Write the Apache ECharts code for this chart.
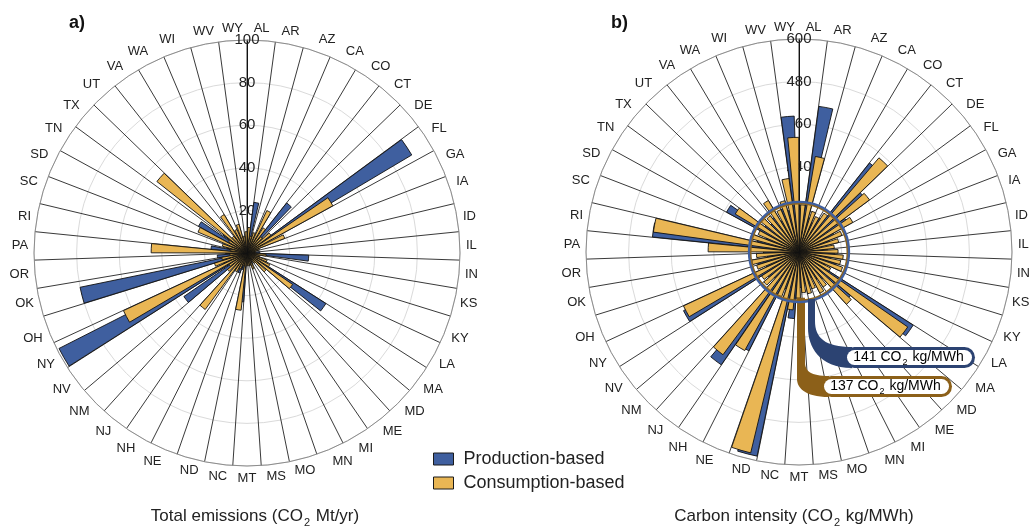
<!DOCTYPE html>
<html>
<head>
<meta charset="utf-8">
<script src="https://cdn.jsdelivr.net/npm/echarts@6/dist/echarts.min.js"></script>
<style>
  html, body { margin: 0; padding: 0; background: #fff; }
  #chart { width: 1031px; height: 529px; }
</style>
</head>
<body>
<div id="chart"></div>
<script>
// States, clockwise from the top
const states = ['AL','AR','AZ','CA','CO','CT','DE','FL','GA','IA','ID','IL','IN','KS','KY','LA',
  'MA','MD','ME','MI','MN','MO','MS','MT','NC','ND','NE','NH','NJ','NM','NV','NY','OH','OK',
  'OR','PA','RI','SC','SD','TN','TX','UT','VA','WA','WI','WV','WY'];

// a) total emissions, CO2 Mt/yr
const emissionsProduction = [6,24,4,6,8,30,10,90,8,5,3,6,29,5,6,6,
  44,8,4,5,6,4,5,4,23,8,10,6,10,8,36,99,12,80,
  14,10,17,10,8,26,14,8,10,6,8,4,6];
const emissionsConsumption = [12,8,10,22,14,10,14,46,19,6,4,4,9,6,10,12,
  26,12,6,4,8,6,6,6,27,6,8,10,33,12,10,64,16,12,
  8,45,8,12,25,10,54,10,21,12,14,8,10];

// b) carbon intensity, CO2 kg/MWh
const intensityProduction = [120,414,100,90,110,320,240,160,110,90,60,80,100,90,110,80,
  382,190,100,90,80,100,90,100,188,587,110,312,386,100,110,365,100,120,
  90,100,415,120,100,233,120,110,120,100,130,120,383];
const intensityConsumption = [133,273,120,110,130,348,247,173,130,115,100,110,125,120,130,100,
  372,199,120,130,110,120,115,130,164,582,135,317,360,130,125,359,125,135,
  120,256,414,140,125,209,140,130,169,130,150,209,323];

// Radial tick labels
const emissionTicks = [20, 40, 60, 80, 100];
const intensityTicks = [120, 240, 360, 480, 600];

// Averages drawn as rings on the intensity panel
const avgProduction = 141;
const avgConsumption = 137;

const seriesNames = ['Production-based', 'Consumption-based'];
const BLUE = '#3f5f9f';
const GOLD = '#e9b654';
const FONT = 'Liberation Sans, Arial, sans-serif';

// Each panel: one polar carrying the visible axes, plus two overlaid polars
// (same centre/scale) whose angle axes are nudged so the two bars of a
// state overlap like a dodge with partial overlap.
const CENTERS = [[247, 253], [799, 252]];
const RADIUS = 213;
const BAR_SHARE = 0.72;                       // bar width as share of a state's sector
const NUDGE = 0.125 * 360 / states.length;    // half the offset between the two bars, degrees

const chart = echarts.init(document.getElementById('chart'), null, { renderer: 'canvas' });

function visibleAngleAxis(idx) {
  return {
    polarIndex: idx,
    type: 'category',
    data: states,
    startAngle: 90,
    clockwise: true,
    boundaryGap: true,
    axisLine: { show: true, lineStyle: { color: '#8c8c8c', width: 1 } },
    axisTick: { show: false },
    axisLabel: { interval: 0, margin: 6, fontSize: 13, color: '#222', fontFamily: FONT },
    splitLine: { show: true, interval: 0, lineStyle: { color: '#222', width: 0.9 } }
  };
}

function hiddenAngleAxis(idx, shift) {
  return {
    polarIndex: idx,
    type: 'category',
    data: states,
    startAngle: 90 + shift,
    clockwise: true,
    boundaryGap: true,
    show: false
  };
}

function visibleRadiusAxis(idx, ticks) {
  return {
    polarIndex: idx,
    type: 'value',
    min: 0,
    max: ticks[ticks.length - 1],
    interval: ticks[1] - ticks[0],
    axisLine: { show: true, lineStyle: { color: '#111', width: 1 } },
    axisTick: { show: false },
    axisLabel: {
      showMinLabel: false, margin: 0, align: 'center', verticalAlign: 'middle',
      fontSize: 15, color: '#222', fontFamily: FONT
    },
    splitLine: { show: true, lineStyle: { color: '#dadada', width: 1 } }
  };
}

function hiddenRadiusAxis(idx, ticks) {
  return {
    polarIndex: idx,
    type: 'value',
    min: 0,
    max: ticks[ticks.length - 1],
    interval: ticks[1] - ticks[0],
    show: false
  };
}

function bars(idx, name, data, color, z) {
  return {
    type: 'bar',
    name: name,
    coordinateSystem: 'polar',
    polarIndex: idx,
    data: data,
    z: z,
    barWidth: (BAR_SHARE * 100) + '%',
    itemStyle: { color: color, borderColor: '#111', borderWidth: 0.9 },
    emphasis: { disabled: true },
    silent: true
  };
}

const subRich = (size, color) => ({
  t: { fontSize: size, color: color, fontFamily: FONT, fontWeight: 'normal',
       lineHeight: size + 6, verticalAlign: 'middle' },
  s: { fontSize: Math.round(size * 0.62), color: color, fontFamily: FONT, fontWeight: 'normal',
       lineHeight: size + 6, verticalAlign: 'bottom', padding: [0, 1, 0, 1] }
});

// Ring at the average plus a flag label hanging below it
function averageRing(value, ringColor, flagColor, textColor, flag) {
  return {
    type: 'custom',
    coordinateSystem: 'polar',
    polarIndex: 3,
    silent: true,
    z: 6,
    data: [[value, 0]],
    renderItem: function (params, api) {
      const cs = params.coordSys;
      const p = api.coord([api.value(0), 0]);
      const cx = cs.cx, cy = cs.cy;
      const R = Math.hypot(p[0] - cx, p[1] - cy);
      const x0 = cx + flag.bandL, x1 = cx + flag.bandR;
      const top = cy + R - 3;
      const pL = cx + flag.pillL, pT = cy + flag.pillT, pH = flag.pillH, pW = flag.pillW;
      const pB = pT + pH;
      const horn = [
        'M', x0, top, 'L', x1, top,
        'L', x1, pT - flag.bendIn,
        'C', x1, pT - flag.bendIn * 0.35, x1 + (pL - x1) * 0.35, pT, pL + 8, pT,
        'L', pL + 8, pB,
        'C', x0 + (pL - x0) * 0.3, pB, x0, pB - flag.bendOut * 0.55, x0, pB - flag.bendOut,
        'Z'
      ].join(' ');
      const label = '{t|' + value + ' CO}{s|2}{t| kg/MWh}';
      return {
        type: 'group',
        children: [
          { type: 'circle', shape: { cx: cx, cy: cy, r: R },
            style: { fill: 'none', stroke: ringColor, lineWidth: 2.2 } },
          { type: 'path', shape: { pathData: horn }, style: { fill: flagColor } },
          { type: 'rect', shape: { x: pL, y: pT, width: pW, height: pH, r: pH / 2 },
            style: { fill: flagColor } },
          { type: 'rect', shape: { x: pL + 3, y: pT + 3, width: pW - 6, height: pH - 6, r: (pH - 6) / 2 },
            style: { fill: '#fff' } },
          { type: 'text',
            style: { text: label, x: pL + pW / 2 - 1, y: pT + pH / 2, align: 'center',
                     verticalAlign: 'middle', rich: subRich(14, textColor) } }
        ]
      };
    }
  };
}

const option = {
  backgroundColor: '#fff',
  animation: false,
  textStyle: { fontFamily: FONT },
  title: [
    { text: 'a)', left: 64, top: 9, textStyle: { fontSize: 18, fontWeight: 'bold', color: '#111', fontFamily: FONT } },
    { text: 'b)', left: 606, top: 9, textStyle: { fontSize: 18, fontWeight: 'bold', color: '#111', fontFamily: FONT } },
    { text: '{t|Total emissions (CO}{s|2}{t| Mt/yr)}', left: 250, top: 500, textAlign: 'center',
      textStyle: { fontWeight: 'normal', rich: subRich(17, '#222') } },
    { text: '{t|Carbon intensity (CO}{s|2}{t| kg/MWh)}', left: 789, top: 500, textAlign: 'center',
      textStyle: { fontWeight: 'normal', rich: subRich(17, '#222') } }
  ],
  legend: {
    data: seriesNames,
    orient: 'vertical',
    left: 433,
    top: 450,
    padding: 0,
    itemWidth: 20,
    itemHeight: 12,
    itemGap: 6,
    icon: 'rect',
    itemStyle: { borderColor: '#1a1a1a', borderWidth: 1 },
    textStyle: { fontSize: 18, color: '#222', fontFamily: FONT, padding: [0, 0, 0, 5] },
    selectedMode: false
  },
  polar: [
    { center: CENTERS[0], radius: RADIUS },
    { center: CENTERS[0], radius: RADIUS },
    { center: CENTERS[0], radius: RADIUS },
    { center: CENTERS[1], radius: RADIUS },
    { center: CENTERS[1], radius: RADIUS },
    { center: CENTERS[1], radius: RADIUS }
  ],
  angleAxis: [
    visibleAngleAxis(0), hiddenAngleAxis(1, NUDGE), hiddenAngleAxis(2, -NUDGE),
    visibleAngleAxis(3), hiddenAngleAxis(4, NUDGE), hiddenAngleAxis(5, -NUDGE)
  ],
  radiusAxis: [
    visibleRadiusAxis(0, emissionTicks), hiddenRadiusAxis(1, emissionTicks), hiddenRadiusAxis(2, emissionTicks),
    visibleRadiusAxis(3, intensityTicks), hiddenRadiusAxis(4, intensityTicks), hiddenRadiusAxis(5, intensityTicks)
  ],
  series: [
    bars(1, seriesNames[0], emissionsProduction, BLUE, 2),
    bars(2, seriesNames[1], emissionsConsumption, GOLD, 3),
    bars(4, seriesNames[0], intensityProduction, BLUE, 2),
    bars(5, seriesNames[1], intensityConsumption, GOLD, 3),
    averageRing(avgConsumption, '#8a6321', '#8c6019', '#9c6c1c',
      { bandL: -2, bandR: 6, pillL: 22, pillT: 124, pillW: 131, pillH: 21, bendIn: 14, bendOut: 18 }),
    averageRing(avgProduction, '#3f5f9f', '#2c4372', '#3c5a98',
      { bandL: 9, bandR: 16, pillL: 45, pillT: 95, pillW: 131, pillH: 21, bendIn: 26, bendOut: 40 })
  ]
};

chart.setOption(option);
</script>
</body>
</html>
